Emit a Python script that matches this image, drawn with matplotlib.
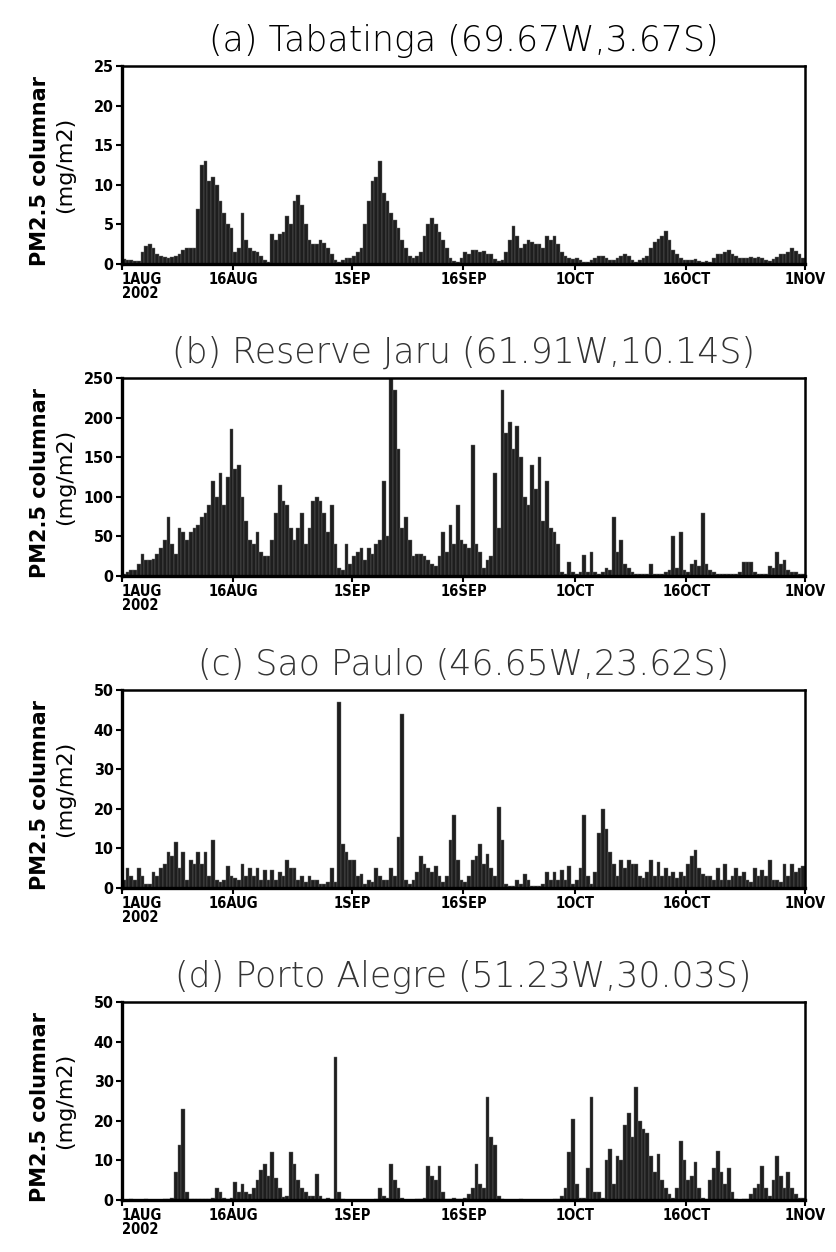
import numpy as np
import pandas as pd
import matplotlib
matplotlib.use("Agg")
import matplotlib.pyplot as plt
import matplotlib.dates as mdates
from matplotlib.font_manager import FontProperties

# half-daily PM2.5 columnar values (mg/m2), 1 Aug - 31 Oct 2002
tabatinga = [
    0.6, 0.5, 0.5, 0.4, 0.4, 1.5, 2.3, 2.5, 2.0, 1.2,
    1.0, 0.9, 0.8, 0.9, 1.0, 1.2, 1.8, 2.0, 2.0, 2.0,
    7.0, 12.5, 13.0, 10.5, 11.0, 10.0, 8.0, 6.5, 5.0, 4.5,
    1.5, 2.0, 6.5, 3.0, 2.0, 1.7, 1.5, 1.0, 0.5, 0.3,
    3.8, 3.0, 3.8, 4.0, 6.0, 5.0, 8.0, 8.7, 7.5, 5.0,
    3.0, 2.5, 2.5, 3.0, 2.7, 2.0, 1.2, 0.5, 0.3, 0.5,
    0.8, 0.8, 1.0, 1.5, 2.0, 5.0, 8.0, 10.5, 11.0, 13.0,
    9.0, 8.0, 6.5, 5.5, 4.5, 3.0, 2.0, 1.0, 0.8, 1.0,
    1.5, 3.5, 5.0, 5.8, 5.0, 4.0, 3.0, 2.0, 0.8, 0.4,
    0.3, 0.8, 1.5, 1.3, 1.8, 1.8, 1.5, 1.7, 1.3, 1.2,
    0.6, 0.4, 0.5, 1.5, 3.0, 4.8, 3.5, 2.0, 2.5, 3.0,
    2.8, 2.5, 2.5, 2.0, 3.5, 3.0, 3.5, 2.5, 1.5, 1.0,
    0.8, 0.6, 0.8, 0.5, 0.3, 0.3, 0.5, 0.8, 1.0, 1.0,
    0.8, 0.5, 0.5, 0.8, 1.0, 1.2, 1.0, 0.5, 0.3, 0.5,
    0.8, 1.0, 2.0, 2.8, 3.2, 3.5, 4.2, 3.0, 1.8, 1.2,
    0.8, 0.5, 0.5, 0.5, 0.6, 0.4, 0.3, 0.4, 0.3, 0.8,
    1.2, 1.3, 1.5, 1.8, 1.3, 1.0, 0.8, 0.8, 0.8, 0.9,
    0.8, 0.9, 0.8, 0.5, 0.4, 0.6, 0.9, 1.2, 1.3, 1.5,
    2.0, 1.7, 1.2, 0.8,
]
jaru = [
    3, 5, 8, 8, 15, 28, 20, 20, 22, 28,
    35, 45, 75, 40, 28, 60, 55, 45, 55, 60,
    65, 75, 80, 90, 120, 100, 130, 90, 125, 185,
    135, 140, 100, 70, 45, 40, 55, 30, 25, 25,
    45, 80, 115, 95, 90, 60, 45, 60, 80, 40,
    60, 95, 100, 95, 80, 55, 90, 40, 10, 8,
    40, 15, 25, 30, 35, 20, 35, 28, 40, 45,
    120, 50, 250, 235, 160, 60, 75, 45, 25, 28,
    28, 25, 20, 15, 12, 25, 55, 30, 65, 40,
    90, 45, 40, 35, 165, 40, 30, 10, 20, 25,
    130, 60, 235, 180, 195, 160, 190, 150, 100, 90,
    140, 110, 150, 70, 120, 60, 55, 40, 5, 3,
    18, 5, 2, 5, 27, 5, 30, 5, 3, 5,
    10, 8, 75, 30, 45, 15, 10, 5, 2, 2,
    2, 3, 15, 2, 3, 3, 5, 8, 50, 10,
    55, 8, 5, 15, 20, 12, 80, 15, 8, 5,
    3, 3, 3, 2, 2, 2, 5, 18, 18, 18,
    5, 3, 2, 3, 12, 10, 30, 15, 20, 8,
    5, 5, 3, 2,
]
sao_paulo = [
    2, 5, 3, 2, 5, 3, 1, 1, 4, 3,
    5, 6, 9, 8, 11.5, 5, 9, 2, 7, 6,
    9, 6, 9, 3, 12, 2, 1.5, 2, 5.5, 3,
    2.5, 2, 6, 3, 5, 3, 5, 2, 4.5, 2,
    4.5, 2, 4, 3, 7, 5, 5, 2, 3, 1.5,
    3, 2, 2, 1, 1, 1.5, 5, 1.5, 47, 11,
    9, 7, 7, 3, 3.5, 1, 2, 1.5, 5, 3,
    2, 2, 5, 3, 13, 44, 2, 1, 2, 4,
    8, 6, 5, 4, 5.5, 3, 1.5, 3, 12, 18.5,
    7, 2, 1.5, 3, 7, 8, 11, 6, 8.5, 5,
    3, 20.5, 12, 1, 0.5, 0.5, 2, 1, 3.5, 2,
    0.5, 0.5, 0.5, 1, 4, 2, 4, 2, 4.5, 2,
    5.5, 1, 2, 5, 18.5, 3, 1, 4, 14, 20,
    15, 9, 6, 3, 7, 5, 7, 6, 6, 3,
    2.5, 4, 7, 3, 6.5, 3, 5, 3, 4, 2.5,
    4, 3, 6, 8, 9.5, 5, 3.5, 3, 3, 2,
    5, 2, 6, 2, 3, 5, 3, 4, 2, 1.5,
    5, 3, 4.5, 3, 7, 2, 2, 1.5, 6, 3,
    6, 4, 5, 5.5,
]
porto_alegre = [
    0.1, 0.1, 0.2, 0.1, 0.1, 0.1, 0.2, 0.1, 0.1, 0.1,
    0.1, 0.2, 0.2, 0.5, 7, 14, 23, 2, 0.2, 0.2,
    0.2, 0.2, 0.2, 0.2, 0.5, 3, 2, 0.5, 0.2, 0.5,
    4.5, 2, 4, 2, 1.5, 3, 5, 7.5, 9, 6,
    12, 5.5, 3, 0.8, 1, 12, 9, 5, 3, 2,
    1, 1, 6.5, 1, 0.3, 0.5, 0.3, 36, 2, 0.2,
    0.1, 0.1, 0.1, 0.1, 0.1, 0.1, 0.1, 0.1, 0.3, 3,
    1, 0.5, 9, 5, 3, 0.5, 0.1, 0.1, 0.1, 0.2,
    0.2, 0.5, 8.5, 6, 5, 8.5, 2, 0.3, 0.2, 0.5,
    0.3, 0.2, 0.5, 1.5, 3, 9, 4, 3, 26, 16,
    14, 1, 0.2, 0.1, 0.1, 0.1, 0.1, 0.3, 0.1, 0.1,
    0.1, 0.1, 0.1, 0.1, 0.1, 0.1, 0.3, 0.3, 1, 3,
    12, 20.5, 4, 0.5, 0.5, 8, 26, 2, 2, 0.5,
    10, 13, 4, 11, 10, 19, 22, 16, 28.5, 20,
    18, 17, 11, 7, 11.5, 5, 3, 1.5, 0.5, 3,
    15, 10, 5, 6, 9.5, 3, 0.5, 0.3, 5, 8,
    12.5, 7, 4, 8, 2, 0.3, 0.1, 0.2, 0.2, 1.5,
    3, 4, 8.5, 3, 1, 5, 11, 6, 3, 7,
    3, 1.5, 0.5, 0.5,
]

titles = [
    "(a) Tabatinga (69.67W,3.67S)",
    "(b) Reserve Jaru (61.91W,10.14S)",
    "(c) Sao Paulo (46.65W,23.62S)",
    "(d) Porto Alegre (51.23W,30.03S)",
]
title_colors = ["#000000", "#333333", "#333333", "#333333"]
series = [tabatinga, jaru, sao_paulo, porto_alegre]
ymax = [25, 250, 50, 50]
ystep = [5, 50, 10, 10]
tick_dates = ["2002-08-01", "2002-08-16", "2002-09-01", "2002-09-16",
              "2002-10-01", "2002-10-16", "2002-11-01"]
tick_labels = ["1AUG\n2002", "16AUG", "1SEP", "16SEP", "1OCT", "16OCT", "1NOV"]

times = pd.date_range("2002-08-01", periods=184, freq="12h")

fig = plt.figure(figsize=(8.36, 12.52), dpi=100)
W, H = 836, 1252
tops = [66, 378, 690, 1002]
ax_h = 198
left, right = 122, 805

xfont = FontProperties(family="DejaVu Sans", weight="bold", stretch="condensed", size=10.5)
yfont = FontProperties(family="DejaVu Sans", weight="bold", stretch="condensed", size=11.5)
tfont = FontProperties(family="DejaVu Sans", weight=200, size=25)

for i in range(4):
    top = tops[i]
    ax = fig.add_axes([left / W, (H - top - ax_h) / H, (right - left) / W, ax_h / H])
    ax.bar(times, series[i], width=0.5, align="edge", color="#1e1e1e",
           edgecolor="#6a6a6a", linewidth=0.3)
    ax.set_xlim(pd.Timestamp("2002-08-01"), pd.Timestamp("2002-11-01"))
    ax.set_ylim(0, ymax[i])
    ax.set_yticks(np.arange(0, ymax[i] + 1, ystep[i]))
    ax.set_xticks([mdates.datestr2num(d) for d in tick_dates])
    ax.set_xticklabels(tick_labels, linespacing=0.85)
    for lab in ax.get_xticklabels():
        lab.set_fontproperties(xfont)
    ax.get_xticklabels()[0].set_horizontalalignment("left")
    ax.get_xticklabels()[0].set_x(mdates.datestr2num("2002-07-31 12:00"))
    for lab in ax.get_yticklabels():
        lab.set_fontproperties(yfont)
    ax.tick_params(direction="out", length=4, width=1.5, pad=2, colors="black")
    for s in ["left", "bottom"]:
        ax.spines[s].set_linewidth(2.4)
    for s in ["top", "right"]:
        ax.spines[s].set_linewidth(1.8)
    ax.set_title(titles[i], fontproperties=tfont, color=title_colors[i], pad=11)
    ax.text(-0.12, 0.47, "PM2.5 columnar", transform=ax.transAxes, rotation=90,
            ha="center", va="center", fontsize=15, fontweight="bold")
    ax.text(-0.083, 0.50, "(mg/m2)", transform=ax.transAxes, rotation=90,
            ha="center", va="center", fontsize=16)

fig.savefig("out.png", dpi=100)
